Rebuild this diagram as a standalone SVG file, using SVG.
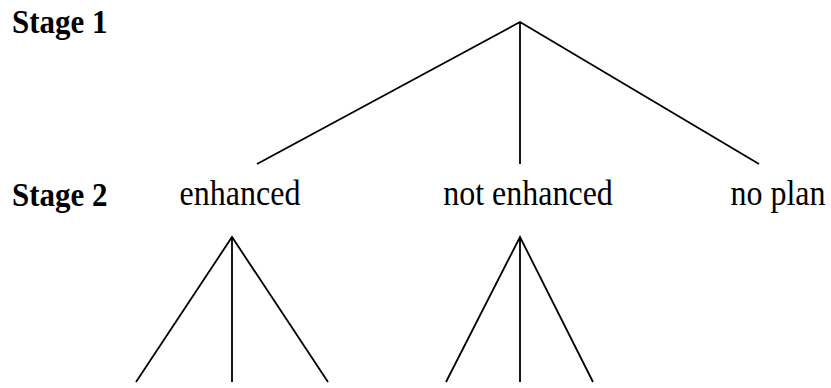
<svg xmlns="http://www.w3.org/2000/svg" width="831" height="388" viewBox="0 0 831 388">
<style>
.lbl{font-family:"Liberation Serif","Times New Roman",serif;font-size:32px;fill:#000}
.stg{font-weight:bold;font-size:31px}
.ln{stroke:#000;stroke-width:1.8;fill:none;stroke-linecap:butt}
</style>
<rect width="831" height="388" fill="#fff"/>
<g id="stage1" transform="translate(12,33) scale(1,1.12)"><text class="lbl stg" x="0" y="0">Stage 1</text></g>
<g id="stage2" transform="translate(12,206) scale(1,1.12)"><text class="lbl stg" x="0" y="0">Stage 2</text></g>
<g id="enhanced" transform="translate(240,205) scale(1,1.12)"><text class="lbl" x="0" y="0" text-anchor="middle">enhanced</text></g>
<g id="not-enhanced" transform="translate(528,205) scale(1,1.12)"><text class="lbl" x="0" y="0" text-anchor="middle">not enhanced</text></g>
<g id="no-plan" transform="translate(778,205) scale(1,1.12)"><text class="lbl" x="0" y="0" text-anchor="middle">no plan</text></g>
<g id="connectors">
<path class="ln" d="M257,164 L520,22 L759,164 M520,22 L520,164"/>
<path class="ln" d="M136,382 L232,237 L328,382 M232,237 L232,382"/>
<path class="ln" d="M446,382 L520,237 L593,382 M520,237 L520,382"/>
</g>
</svg>
